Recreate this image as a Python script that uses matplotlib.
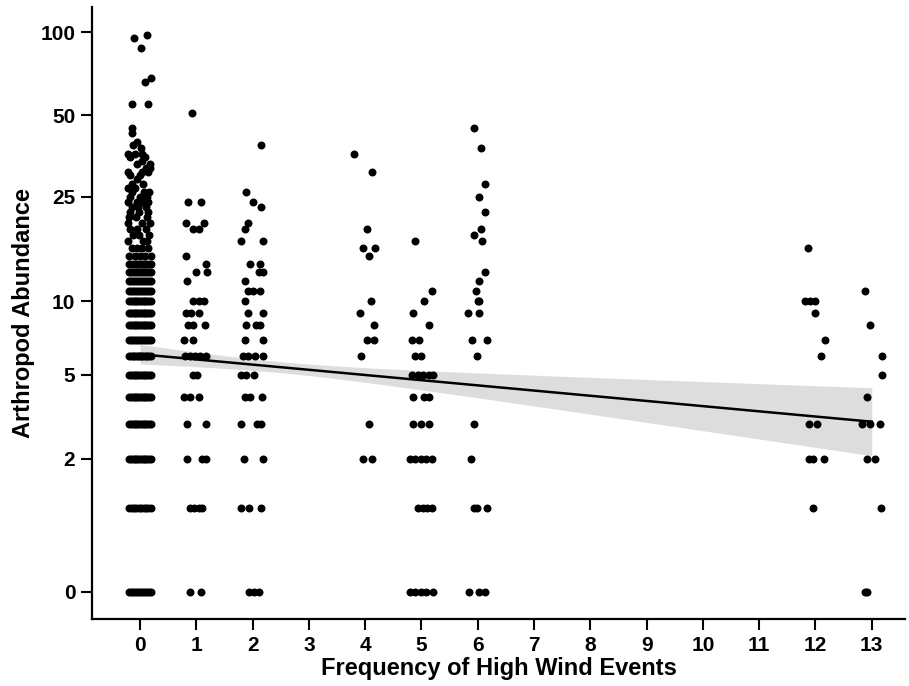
"""Arthropod abundance vs. frequency of high wind events: jittered strip plot with linear fit."""
import numpy as np
import matplotlib.pyplot as plt

OUTPUT_PATH = "out.png"

# group 0: the low rows are fully overplotted, so only a count per value is kept
G0_ROW_VALUES = [0, 1, 2, 3, 4, 5, 6, 7, 8, 9, 10, 11, 12, 13, 14, 15]
G0_ROW_COUNTS = [12, 10, 13, 13, 13, 13, 14, 12, 13, 13, 13, 12, 12, 12, 9, 5]

# group 0: scattered points above the solid rows (abundance, jitter)
G0_VALUES = [95, 88, 98, 66, 68, 55, 55, 45, 43, 40, 39, 38, 36, 36, 36, 35, 35,
             34, 33, 33, 32, 32, 31, 31, 31, 30, 30, 29, 28, 28, 27, 27, 26, 26,
             26, 25, 25, 25, 24, 24, 24, 24, 23, 23, 23, 22, 22, 22, 21, 21, 21,
             20, 20, 20, 19, 19, 19, 18, 18, 18, 17, 17, 17, 16, 16, 16, 16]
G0_JITTER = [-0.11, 0.01, 0.12, 0.09, 0.19, -0.14, 0.14, -0.15, -0.14, -0.05, -0.12, 0.02, -0.21, -0.09, 0.04, -0.17, 0.09,
             0.03, -0.05, 0.17, 0.18, 0.10, -0.21, 0.03, 0.15, 0.0, -0.17, -0.05, -0.15, 0.05, -0.21, -0.09, 0.07, 0.16,
             -0.14, -0.17, 0.0, 0.13, -0.21, -0.05, 0.04, 0.15, -0.14, 0.10, -0.03, -0.17, -0.02, 0.15, -0.07, 0.12, -0.19,
             -0.21, 0.04, 0.17, -0.17, 0.10, -0.05, -0.02, 0.16, -0.13, -0.21, 0.13, 0.06, -0.14, 0.04, 0.15, -0.05]

G1_VALUES = [51, 24, 24, 20, 20, 19, 19, 15, 14, 13, 13, 12, 10, 10, 10, 9, 9, 9, 8, 8, 8, 7, 7,
             6, 6, 6, 6, 6, 5, 5, 4, 4, 4, 3, 3, 2, 2, 2, 1, 1, 1, 1, 0, 0]
G1_JITTER = [-0.08, -0.14, 0.08, -0.18, 0.13, -0.06, 0.04, -0.19, 0.18, -0.01, 0.19, -0.17, -0.06, 0.04, 0.14,
             -0.18, -0.10, 0.05, -0.14, -0.06, 0.16, -0.22, -0.06, -0.20, -0.12, -0.02, 0.06, 0.17, -0.06, 0.02,
             -0.22, -0.12, 0.04, -0.16, 0.17, -0.16, 0.11, 0.18, -0.12, -0.04, 0.04, 0.11, -0.12, 0.08]

G2_VALUES = [39, 26, 24, 23, 20, 19, 17, 17, 14, 14, 13, 13, 12, 11, 11, 11, 10, 9, 9, 8, 8, 8, 7, 7,
             6, 6, 6, 6, 5, 5, 5, 4, 4, 4, 3, 3, 3, 2, 2, 1, 1, 1, 0, 0, 0]
G2_JITTER = [0.15, -0.12, 0.0, 0.15, -0.09, -0.13, -0.21, 0.19, -0.04, 0.13, 0.12, 0.19, -0.13, -0.09, 0.0,
             0.13, -0.13, -0.09, 0.19, -0.11, 0.06, 0.13, -0.13, 0.18, -0.17, -0.09, 0.05, 0.19, -0.21, -0.11,
             0.03, -0.14, -0.05, 0.17, -0.21, 0.07, 0.15, -0.15, 0.19, -0.21, -0.06, 0.15, -0.06, 0.03, 0.12]

G4_VALUES = [36, 31, 19, 16, 16, 15, 10, 9, 8, 7, 7, 6, 3, 2, 2]
G4_JITTER = [-0.19, 0.12, 0.03, -0.03, 0.18, 0.06, 0.10, -0.09, 0.16, 0.03, 0.15, -0.07, 0.06, -0.03, 0.12]

G5_VALUES = [17, 11, 10, 9, 8, 7, 7, 6, 6, 5, 5, 5, 5, 5, 4, 4, 4, 3, 3, 3,
             2, 2, 2, 2, 2, 1, 1, 1, 1, 0, 0, 0, 0, 0]
G5_JITTER = [-0.11, 0.19, 0.04, -0.15, 0.13, -0.17, -0.04, -0.11, -0.01, -0.17, -0.07, 0.03, 0.14, 0.21,
             -0.15, 0.04, 0.13, -0.15, -0.01, 0.14, -0.21, -0.11, -0.01, 0.08, 0.19, -0.07, 0.02, 0.10, 0.19,
             -0.21, -0.11, -0.01, 0.08, 0.20]

G6_VALUES = [45, 38, 28, 25, 22, 19, 18, 17, 13, 12, 11, 10, 10, 9, 9, 7, 7, 6, 3, 2, 1, 1, 1, 0, 0, 0]
G6_JITTER = [-0.07, 0.06, 0.12, 0.02, 0.12, 0.06, -0.07, 0.07, 0.12, 0.02, -0.04, 0.0, 0.03, -0.18, 0.03,
             -0.10, 0.16, -0.02, -0.07, -0.12, -0.07, -0.02, 0.16, -0.16, 0.03, 0.12]

G12_VALUES = [16, 10, 10, 10, 9, 7, 6, 3, 3, 2, 2, 2, 1]
G12_JITTER = [-0.14, -0.19, -0.10, -0.01, -0.01, 0.17, 0.09, -0.11, 0.02, -0.11, -0.05, 0.15, -0.05]

G13_VALUES = [11, 8, 6, 5, 4, 3, 3, 3, 2, 2, 1, 0, 0]
G13_JITTER = [-0.12, -0.04, 0.18, 0.18, -0.08, -0.18, -0.03, 0.15, -0.09, 0.06, 0.17, -0.12, -0.08]

SCATTER_GROUPS = {
    0: (G0_VALUES, G0_JITTER),
    1: (G1_VALUES, G1_JITTER),
    2: (G2_VALUES, G2_JITTER),
    4: (G4_VALUES, G4_JITTER),
    5: (G5_VALUES, G5_JITTER),
    6: (G6_VALUES, G6_JITTER),
    12: (G12_VALUES, G12_JITTER),
    13: (G13_VALUES, G13_JITTER),
}

# fitted line (abundance at x = 0 and x = 13) and CI half-width on the log(y+1) scale
FIT_X = [0, 13]
FIT_Y = [6.1, 3.07]
BAND_HALF = [0.08, 0.28]
BAND_NARROWEST_X = 2.5

X_TICKS = list(range(14))
Y_TICKS = [0, 2, 5, 10, 25, 50, 100]
Y_TICK_LABELS = ["0", "2", "5", "10", "25", "50", "100"]

ROW_HALF_WIDTH = 0.19
DOT_SIZE = 33


def main() -> None:
    plt.rcParams["font.family"] = ["Liberation Sans", "DejaVu Sans"]
    plt.rcParams["font.weight"] = "bold"

    fig = plt.figure(figsize=(9.09, 6.86), dpi=100)
    ax = fig.add_axes([92 / 909, 1 - 619 / 686, (905 - 92) / 909, (619 - 7) / 686])
    ax.set_yscale("function", functions=(np.log1p, np.expm1))

    # confidence band, built on the log(y+1) scale
    xs = np.linspace(FIT_X[0], FIT_X[1], 200)
    center = np.interp(xs, FIT_X, np.log1p(FIT_Y))
    d0 = (FIT_X[0] - BAND_NARROWEST_X) ** 2
    d1 = (FIT_X[1] - BAND_NARROWEST_X) ** 2
    b = (BAND_HALF[1] ** 2 - BAND_HALF[0] ** 2) / (d1 - d0)
    a = BAND_HALF[0] ** 2 - b * d0
    half = np.sqrt(a + b * (xs - BAND_NARROWEST_X) ** 2)
    ax.fill_between(xs, np.expm1(center - half), np.expm1(center + half),
                    color="#dddddd", lw=0, zorder=1)

    # overplotted rows of group 0
    for val, n in zip(G0_ROW_VALUES, G0_ROW_COUNTS):
        offs = np.linspace(-ROW_HALF_WIDTH, ROW_HALF_WIDTH, n)
        ax.scatter(0 + offs, [val] * n, s=DOT_SIZE, c="black", linewidths=0, zorder=2)

    for grp, (vals, jit) in SCATTER_GROUPS.items():
        ax.scatter(grp + np.asarray(jit), vals, s=DOT_SIZE, c="black", linewidths=0, zorder=2)

    ax.plot(FIT_X, FIT_Y, color="black", lw=1.8, zorder=3)

    ax.set_xlim(-0.853, 13.59)
    ax.set_ylim(np.expm1(-0.223), np.expm1(4.823))
    ax.set_xticks(X_TICKS)
    ax.set_yticks(Y_TICKS, Y_TICK_LABELS)
    ax.minorticks_off()

    for side in ("top", "right"):
        ax.spines[side].set_visible(False)
    for side in ("left", "bottom"):
        ax.spines[side].set_linewidth(1.6)
    ax.tick_params(width=1.5, length=8, labelsize=15, pad=4)

    ax.set_xlabel("Frequency of High Wind Events", fontsize=17, fontweight="bold", labelpad=2)
    ax.set_ylabel("Arthropod Abundance", fontsize=17, fontweight="bold", labelpad=4)

    fig.savefig(OUTPUT_PATH, dpi=100)
    plt.close(fig)


if __name__ == "__main__":
    main()
